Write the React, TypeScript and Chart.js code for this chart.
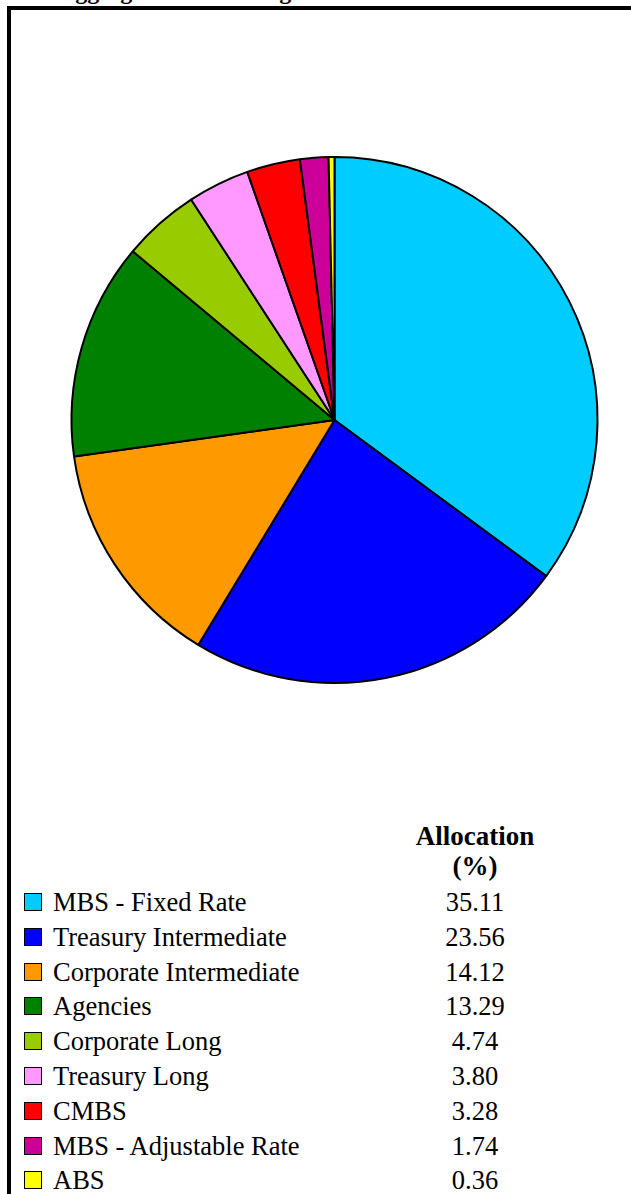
import React, { useEffect, useRef } from "react";
import { Chart, registerables } from "chart.js";

Chart.register(...registerables);

const categories = [
  "MBS - Fixed Rate",
  "Treasury Intermediate",
  "Corporate Intermediate",
  "Agencies",
  "Corporate Long",
  "Treasury Long",
  "CMBS",
  "MBS - Adjustable Rate",
  "ABS",
];
const allocation = [35.11, 23.56, 14.12, 13.29, 4.74, 3.8, 3.28, 1.74, 0.36];
const allocationLabels = ["35.11", "23.56", "14.12", "13.29", "4.74", "3.80", "3.28", "1.74", "0.36"];
const colors = [
  "#00CCFF",
  "#0000FF",
  "#FF9900",
  "#008000",
  "#99CC00",
  "#FF99FF",
  "#FF0000",
  "#CC0099",
  "#FFFF00",
];
const titleText = "Aggregate Sector Weights";
const columnHeader = ["Allocation", "(%)"];

const FONT = "'Liberation Serif', 'Times New Roman', serif";

export default function App() {
  const ref = useRef<HTMLCanvasElement | null>(null);

  useEffect(() => {
    if (!ref.current) return;
    const chart = new Chart(ref.current, {
      type: "pie",
      data: {
        labels: categories,
        datasets: [
          {
            data: allocation,
            backgroundColor: colors,
            borderColor: "#000000",
            borderWidth: 2,
          },
        ],
      },
      options: {
        responsive: false,
        animation: false,
        layout: { padding: { left: 70.5, right: 32.5, top: 156, bottom: 76 } },
        plugins: {
          legend: { display: false },
          tooltip: { enabled: false },
          title: { display: false },
        },
      },
    });
    return () => chart.destroy();
  }, []);

  const rowTop = 885;
  const rowStep = 34.8;

  return (
    <div
      style={{
        position: "fixed",
        left: 0,
        top: 0,
        width: 631,
        height: 1194,
        overflow: "hidden",
        background: "#fff",
        fontFamily: FONT,
      }}
    >
      <div
        style={{
          position: "absolute",
          left: 58,
          top: -21,
          fontSize: 24,
          lineHeight: "24px",
          fontWeight: "bold",
          whiteSpace: "nowrap",
          color: "#000",
        }}
      >
        {titleText}
      </div>
      <div
        style={{
          position: "absolute",
          left: 7,
          top: 6,
          width: 2000,
          height: 2000,
          borderTop: "4px solid #000",
          borderLeft: "4px solid #000",
          boxSizing: "border-box",
        }}
      />
      <canvas
        ref={ref}
        width={631}
        height={760}
        style={{ position: "absolute", left: 0, top: 0, width: 631, height: 760 }}
      />
      <div
        style={{
          position: "absolute",
          left: 375,
          width: 200,
          top: 821,
          textAlign: "center",
          fontWeight: "bold",
          fontSize: 27,
          lineHeight: "30px",
          color: "#000",
        }}
      >
        <div>{columnHeader[0]}</div>
        <div>{columnHeader[1]}</div>
      </div>
      {categories.map((c, i) => (
        <div
          key={c}
          style={{
            position: "absolute",
            left: 0,
            top: rowTop + i * rowStep,
            width: 631,
            height: 34,
            fontSize: 26.5,
            lineHeight: "34px",
            color: "#000",
          }}
        >
          <div
            style={{
              position: "absolute",
              left: 24,
              top: 8,
              width: 18,
              height: 18,
              background: colors[i],
              border: "1px solid #000",
              boxSizing: "border-box",
            }}
          />
          <div style={{ position: "absolute", left: 53, top: 0, whiteSpace: "nowrap" }}>{c}</div>
          <div style={{ position: "absolute", left: 375, width: 200, top: 0, textAlign: "center" }}>
            {allocationLabels[i]}
          </div>
        </div>
      ))}
    </div>
  );
}
